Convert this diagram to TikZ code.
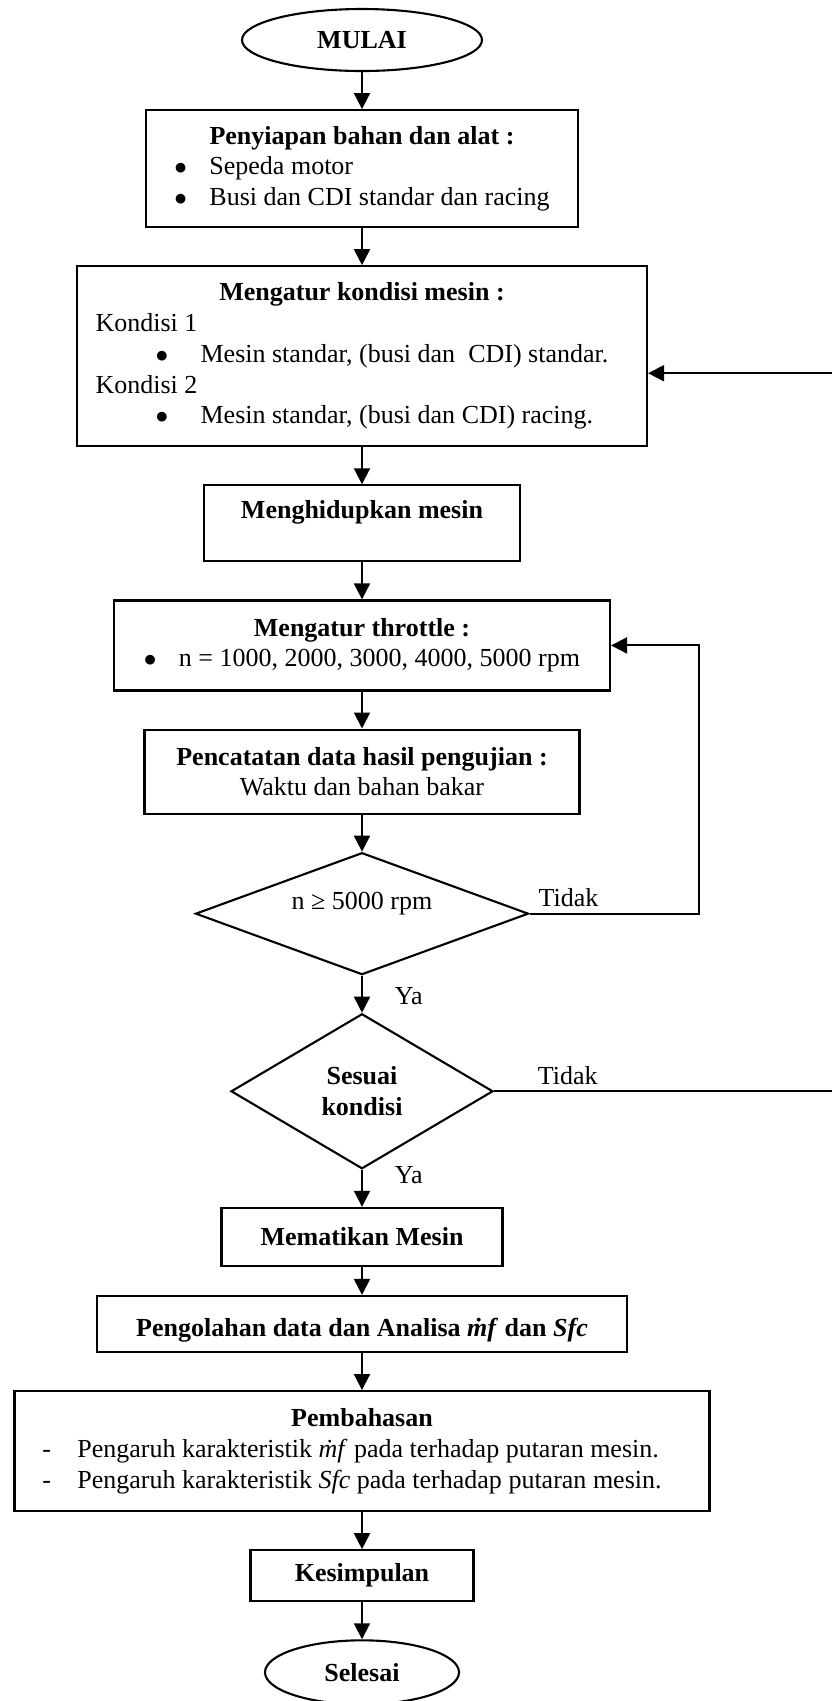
\documentclass[tikz,border=0pt]{standalone}
\usepackage{fontspec}
\setmainfont{Liberation Serif}
\usetikzlibrary{shapes.geometric,positioning,arrows.meta}

\begin{document}
\begin{tikzpicture}[node distance=0.74cm,
		font=\fontsize{14.8pt}{17.5pt}\selectfont,
		>={Triangle[length=0.32cm,width=0.32cm]},
		box/.style={rectangle, draw, line width=1.2pt, inner sep=0pt},
		term/.style={ellipse, draw, line width=1.2pt, inner sep=0pt},
		decision/.style={diamond, draw, line width=1.2pt, inner sep=0pt},
		conn/.style={->, line width=1.1pt}]
		\useasboundingbox (0,0) rectangle (16.64,-34.02);
		\clip (0,0) rectangle (16.64,-34.02);

		% Start
		\node (mulai) [term, minimum width=4.8cm, minimum height=1.24cm] at (7.24,-0.8) {\textbf{MULAI}};

		% Preparation
		\node (siap) [box, below=of mulai, minimum width=8.64cm, minimum height=2.34cm] {\begin{tabular}{@{}p{0.7cm}@{}l@{}}
			\multicolumn{2}{@{}c@{}}{\textbf{Penyiapan bahan dan alat :}}\\
			$\bullet$ & Sepeda motor\\
			$\bullet$ & Busi dan CDI standar dan racing
		\end{tabular}};

		% Engine condition
		\node (kond) [box, below=of siap, minimum width=11.4cm, minimum height=3.6cm] {\begin{tabular}{@{}p{1.2cm}@{}p{0.9cm}@{}l@{\hspace{0.4cm}}}
			\multicolumn{3}{@{}c@{}}{\textbf{Mengatur kondisi mesin :}}\\
			\multicolumn{3}{@{}l@{}}{Kondisi 1}\\
			& $\bullet$ & Mesin standar, (busi dan\ \ CDI) standar.\\
			\multicolumn{3}{@{}l@{}}{Kondisi 2}\\
			& $\bullet$ & Mesin standar, (busi dan CDI) racing.
		\end{tabular}};

		% Start engine
		\node (hidup) [box, below=of kond, minimum width=6.32cm, minimum height=1.52cm, text depth=0.55cm] {\textbf{Menghidupkan mesin}};

		% Throttle
		\node (gas) [box, below=of hidup, minimum width=9.92cm, minimum height=1.8cm] {\begin{tabular}{@{}p{0.7cm}@{}l@{}}
			\multicolumn{2}{@{}c@{}}{\textbf{Mengatur throttle :}}\\
			$\bullet$ & n = 1000, 2000, 3000, 4000, 5000 rpm
		\end{tabular}};

		% Recording
		\node (catat) [box, below=of gas, minimum width=8.7cm, minimum height=1.68cm, align=center] {\textbf{Pencatatan data hasil pengujian :}\\ Waktu dan bahan bakar};

		% Check rpm
		\node (cek) [decision, below=of catat, aspect=2.7, minimum width=6.66cm, minimum height=2.44cm, text depth=0.5cm] {n ≥ 5000 rpm};

		% Check condition
		\node (sesuai) [decision, below=of cek, minimum width=5.24cm, minimum height=3.1cm, align=center] {\textbf{Sesuai}\\ \textbf{kondisi}};

		% Stop engine
		\node (mati) [box, below=of sesuai, minimum width=5.62cm, minimum height=1.16cm] {\textbf{Mematikan Mesin}};

		% Processing
		\node (olah) [box, below=0.56cm of mati, minimum width=10.6cm, minimum height=1.12cm, text height=0.6cm] {\textbf{Pengolahan data dan Analisa \textit{\.{m}f} dan \textit{Sfc}}};

		% Discussion
		\node (bahas) [box, below=of olah, minimum width=13.9cm, minimum height=2.4cm] {\begin{tabular}{@{}p{0.7cm}@{}l@{\hspace{0.4cm}}}
			\multicolumn{2}{@{}c@{}}{\textbf{Pembahasan}}\\
			- & Pengaruh karakteristik \textit{\.{m}f} pada terhadap putaran mesin.\\
			- & Pengaruh karakteristik \textit{Sfc} pada terhadap putaran mesin.
		\end{tabular}};

		% Conclusion
		\node (simpul) [box, below=of bahas, minimum width=4.46cm, minimum height=1.02cm] {\textbf{Kesimpulan}};

		% End
		\node (selesai) [term, below=of simpul, minimum width=3.88cm, minimum height=1.28cm] {\textbf{Selesai}};

		% Return lines
		\coordinate (loop) at (13.98,0);
		\coordinate (edge) at (16.9,0);

		% Arrows
		\draw[conn] (mulai) -- (siap);
		\draw[conn] (siap) -- (kond);
		\draw[conn] (kond) -- (hidup);
		\draw[conn] (hidup) -- (gas);
		\draw[conn] (gas) -- (catat);
		\draw[conn] (catat) -- (cek);
		\draw[conn] (cek) -- node[right=0.52cm, pos=0.55] (ya1) {Ya} (sesuai);
		\draw[conn] (sesuai) -- node[right=0.52cm, pos=0.15] (ya2) {Ya} (mati);
		\draw[conn] (mati) -- (olah);
		\draw[conn] (olah) -- (bahas);
		\draw[conn] (bahas) -- (simpul);
		\draw[conn] (simpul) -- (selesai);
		\draw[conn] (cek.east) -- node[above, pos=0.23] (tidak1) {Tidak} (cek.east -| loop) |- (gas.east);
		\draw[conn] (sesuai.east) -- node[above, pos=0.21] (tidak2) {Tidak} (sesuai.east -| edge) |- ([yshift=-0.34cm]kond.east);
	\end{tikzpicture}
\end{document}
